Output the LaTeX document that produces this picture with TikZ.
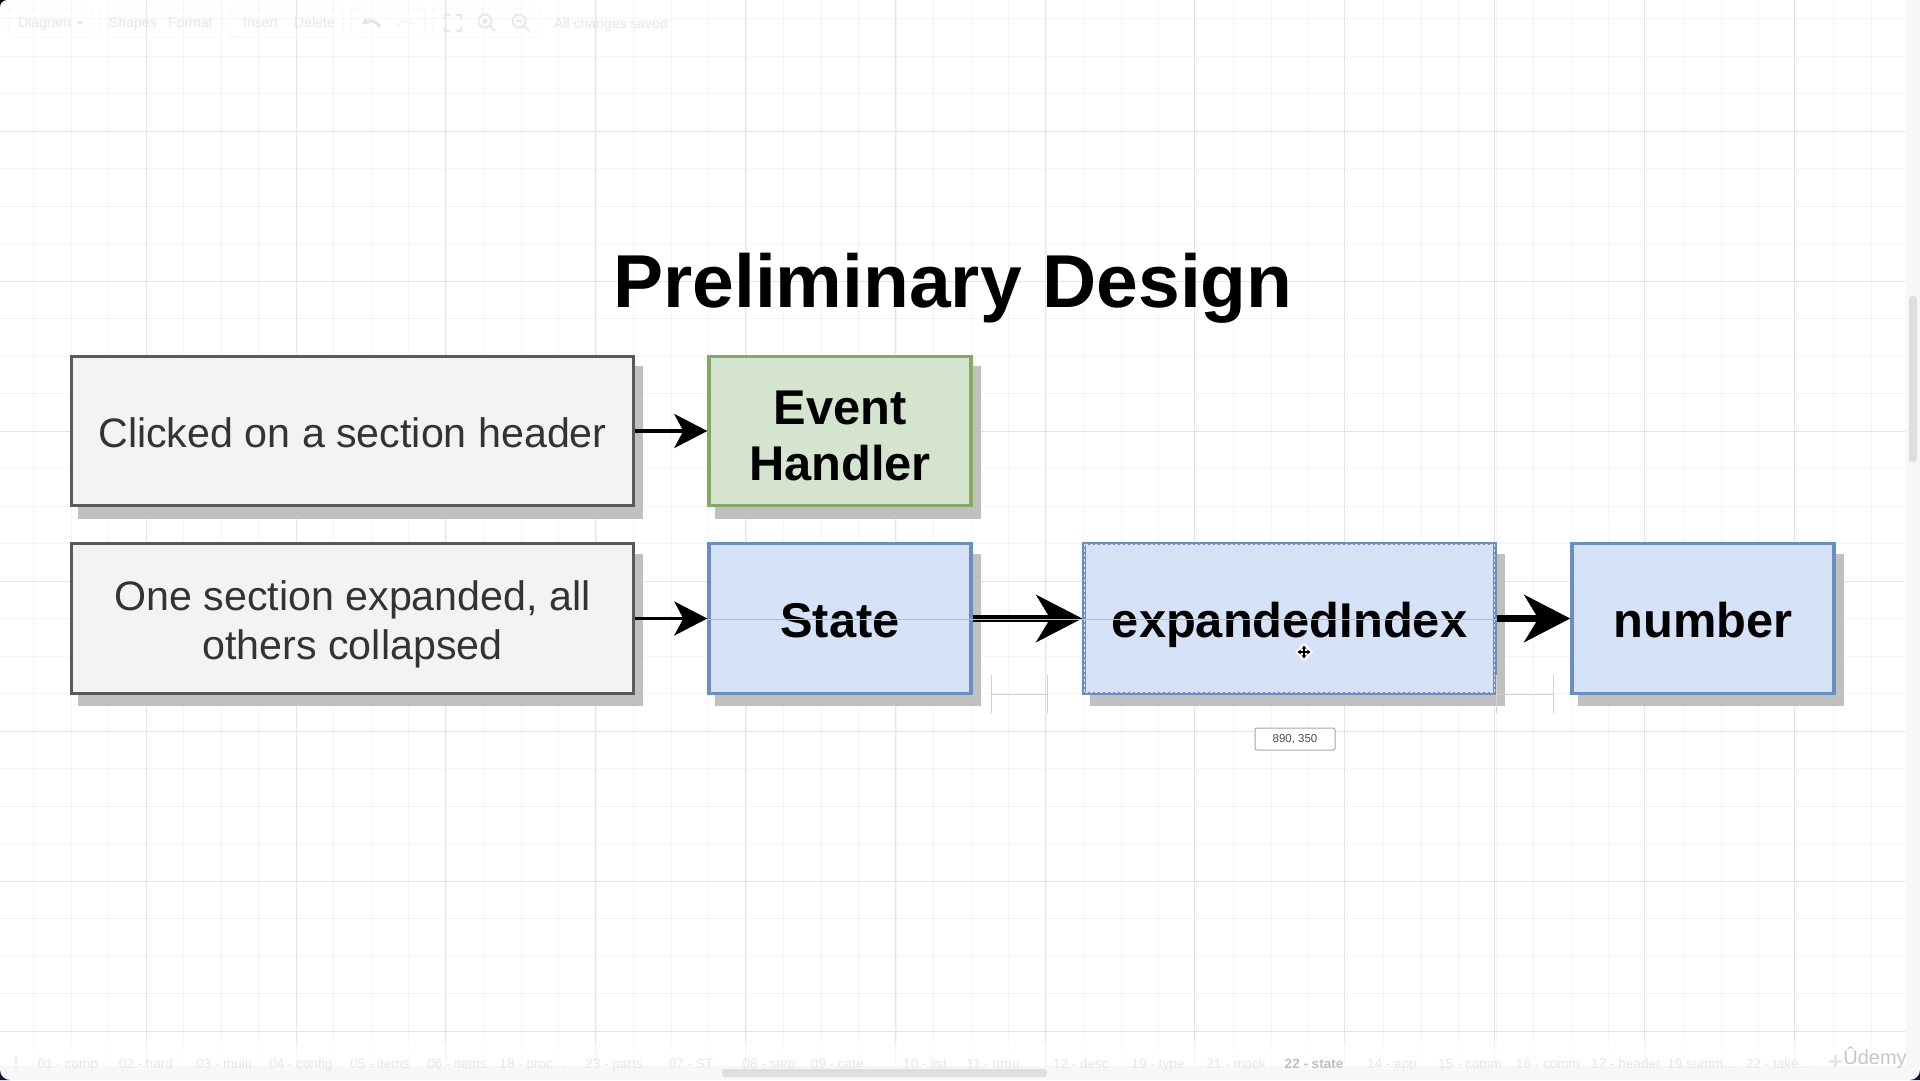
\documentclass[tikz,border=0pt]{standalone}
\usepackage{fontspec}
\setmainfont{Liberation Sans}
\usetikzlibrary{arrows.meta,shadows,calc}
\definecolor{gridminor}{HTML}{F5F5F5}
\definecolor{gridmajor}{HTML}{E4E4E4}
\definecolor{guidegray}{HTML}{BDBDBD}
\definecolor{ghost}{HTML}{E6E6E6}
\definecolor{ghostline}{HTML}{F7F7F7}
\definecolor{gbfill}{HTML}{F3F3F3}
\definecolor{grfill}{HTML}{D5E4CF}
\definecolor{grdraw}{HTML}{84A965}
\definecolor{blfill}{HTML}{D6E2F7}
\definecolor{bldraw}{HTML}{6C8EBF}
\definecolor{cornerdark}{HTML}{1A1040}
\definecolor{shadowgray}{HTML}{C0C0C0}
\tikzset{
  px/.style={x=1pt,y=-1pt},
  boxbase/.style={draw,line width=3.4pt,minimum height=149.5pt,align=center,inner sep=0pt,
    general shadow={draw=shadowgray,fill=shadowgray,line width=3.4pt,shadow xshift=8pt,shadow yshift=-11.5pt}},
  graybox/.style={boxbase,draw=black!65,fill=gbfill,minimum width=561.5pt,text=black!80,font=\fontsize{41.2}{49}\selectfont},
  greenbox/.style={boxbase,fill=grfill,draw=grdraw,minimum width=262pt,font=\bfseries\fontsize{48.8}{56}\selectfont},
  bluebox/.style={boxbase,fill=blfill,draw=bldraw,minimum width=262pt,font=\bfseries\fontsize{48.8}{56}\selectfont},
  thinarrow/.style={line width=3.6pt,-{Stealth[length=33pt,width=34pt,inset=9pt]}},
  thickarrow/.style={line width=7.5pt,-{Stealth[length=46pt,width=47pt,inset=14pt]}},
  ghosttext/.style={text=ghost,font=\fontsize{14}{16}\selectfont,inner sep=0pt,anchor=base west},
  tabtext/.style={text=ghost,font=\fontsize{13.5}{15}\selectfont,inner sep=0pt,anchor=base},
  panel/.style={draw=ghostline,line width=1pt,rounded corners=4pt},
  icon/.style={draw=ghost,line width=1.6pt},
  measure/.style={guidegray!70!white,line width=1pt},
}
\begin{document}
\begin{tikzpicture}[px]
\useasboundingbox (0,0) rectangle (1920,1080);
\fill[white] (0,0) rectangle (1920,1080);
% grid
\foreach \i in {-3,...,47} {
  \draw[gridminor,line width=1pt] ({146.3+37.5*\i},0) -- ({146.3+37.5*\i},1080);
}
\foreach \i in {-3,...,26} {
  \draw[gridminor,line width=1pt] (0,{131+37.5*\i}) -- (1906,{131+37.5*\i});
}
\foreach \i in {0,...,11} {
  \draw[gridmajor,line width=1pt] ({146.3+149.8*\i},0) -- ({146.3+149.8*\i},1080);
}
\foreach \y in {131,281,431,581,731,881,1031} {
  \draw[gridmajor,line width=1pt] (0,\y) -- (1906,\y);
}
% bottom bar + scrollbars
\fill[white,opacity=.6] (0,1042) rectangle (1906,1080);
\fill[black!3] (0,1066) rectangle (1906,1080);
\fill[black!3] (1906,0) rectangle (1920,1080);
\fill[black!13,rounded corners=3pt] (722,1069) rectangle (1047,1077);
\fill[black!13,rounded corners=3pt] (1909,296) rectangle (1917,462);
% window corners
\fill[black] (0,0) -- (7,0) arc[start angle=90,end angle=180,radius=7pt] -- cycle;
\fill[cornerdark] (0,1080) -- (0,1070) arc[start angle=180,end angle=270,radius=10pt] -- cycle;
\fill[cornerdark] (1920,1080) -- (1920,1070) arc[start angle=0,end angle=-90,radius=10pt] -- cycle;
% toolbar ghost
\draw[panel] (8,8) rectangle (93,37);
\draw[panel] (100,8) rectangle (222,37);
\draw[panel] (229,8) rectangle (343,37);
\draw[panel] (351,8) rectangle (425,37);
\draw[panel] (432,8) rectangle (541,37);
\node[ghosttext] (tb1) at (18,27.5) {Diagram};
\node[ghosttext] (tb2) at (109,27.5) {Shapes};
\node[ghosttext] (tb3) at (168,27.5) {Format};
\node[ghosttext] (tb4) at (243,27.5) {Insert};
\node[ghosttext] (tb5) at (294,27.5) {Delete};
\node[ghosttext] (tb6) at (554,28) {All changes saved};
\draw[icon] (77,21) -- (80,24) -- (83,21);
\draw[icon,line width=3pt,-{Stealth[length=7pt,width=9pt]}] (380,27) .. controls (376,20) and (369,20) .. (362,24);
\draw[ghostline,line width=3pt,-{Stealth[length=7pt,width=9pt]}] (396,27) .. controls (400,20) and (407,20) .. (414,24);
\draw[icon] (445,19) |- (450,15) (456,15) -| (461,19) (461,27) |- (456,31) (450,31) -| (445,27);
\draw[icon] (485,21) circle[radius=6.5pt] (490,26) -- (495,31) (482,21) -- (488,21) (485,18) -- (485,24);
\draw[icon] (519,21) circle[radius=6.5pt] (524,26) -- (529,31) (516,21) -- (522,21);
% tabs
\fill[ghost] (16,1057) circle[radius=1.6pt] (16,1062) circle[radius=1.6pt] (16,1067) circle[radius=1.6pt];
\foreach \n/\x/\t in {t1/68/01 - comp,t2/146/02 - hard,t3/224/03 - multi,t4/301/04 - config,t5/380/05 - items,t6/457/06 - items,t7/533/18 - proc…,t8/614/23 - parts,t9/691/07 - ST,t10/769/08 - step,t11/844/09 - cate…,t12/925/10 - list,t13/1000/11 - grou…,t14/1081/12 - desc,t15/1158/19 - type,t16/1236/21 - mock,t17/1392/14 - app,t18/1470/15 - comm,t19/1548/16 - comm,t20/1626/17 - header,t21/1702/19 summ…,t22/1779/22 - take…} {
  \node[tabtext] (\n) at (\x,1068) {\t};
}
\node[tabtext,font=\bfseries\fontsize{13.5}{15}\selectfont,text=black!25] (tcur) at (1314,1068) {22 - state};
\draw[ghost,line width=3pt] (1829,1061) -- (1841,1061) (1835,1055) -- (1835,1067);
% title
\node[inner sep=0pt,font=\bfseries\fontsize{75}{80}\selectfont] (title) at (953,288) {Preliminary Design};
% boxes
\node[graybox,text height=32.5pt] (click) at (352.5,431) {Clicked on a section header};
\node[greenbox,text height=100pt] (event) at (840,431) {Event\\Handler};
\node[graybox,text height=91pt] (one) at (352.5,618.5) {One section expanded, all\\others collapsed};
\node[bluebox,text height=39pt] (state) at (840,618.5) {State};
\node[bluebox,minimum width=411pt] (idx) at (1289.5,618.5) {};
\draw[white!70!bldraw,line width=1pt,dash pattern=on 3pt off 2pt] ($(idx.north west)+(2,2)$) rectangle ($(idx.south east)+(-2,-2)$);
\node[inner sep=0pt,font=\bfseries\fontsize{48.8}{56}\selectfont] (idxtext) at (1289.5,624.5) {expandedIndex};
\node[bluebox,text height=39pt] (num) at (1703,618.5) {number};
% arrows
\draw[thinarrow] (click) -- (event);
\draw[thinarrow] (one) -- (state);
\draw[thickarrow] (state) -- (idx);
\draw[thickarrow] (idx) -- (num);
% guide
\coordinate (g1) at (state.west);
\coordinate (g2) at (idx.east);
\draw[guidegray,line width=1pt] ($(g1)+(0,1)$) -- ($(g2)+(0,1)$);
% measures
\coordinate (m1) at (991,694); \coordinate (m2) at (1047,694);
\coordinate (m3) at (1496,694); \coordinate (m4) at (1553,694);
\draw[measure] (m1) -- (m2);
\draw[measure] ($(m1)+(0,-19)$) -- ($(m1)+(0,19)$);
\draw[measure] ($(m2)+(0,-19)$) -- ($(m2)+(0,19)$);
\draw[measure] (m3) -- (m4);
\draw[measure] ($(m3)+(0,-19)$) -- ($(m3)+(0,19)$);
\draw[measure] ($(m4)+(0,-19)$) -- ($(m4)+(0,19)$);
% position tag
\node[draw=gray!70,fill=white,rounded corners=2pt,line width=1pt,minimum width=80pt,minimum height=22pt,inner sep=0pt,text=black!70,font=\fontsize{11.5}{13}\selectfont] (pos) at (1295,739) {890, 350};
% move cursor
\fill[white] (1304,643) -- (1313,652) -- (1304,661) -- (1295,652) -- cycle;
\draw[black,line width=1.6pt,{Stealth[length=3.5pt,width=5pt]}-{Stealth[length=3.5pt,width=5pt]}] (1304,645.5) -- (1304,658.5);
\draw[black,line width=1.6pt,{Stealth[length=3.5pt,width=5pt]}-{Stealth[length=3.5pt,width=5pt]}] (1297.5,652) -- (1310.5,652);
% Udemy
\node[inner sep=0pt,text=gray!45,font=\fontsize{20}{22}\selectfont] (ud) at (1875,1058) {Ûdemy};
\end{tikzpicture}
\end{document}
